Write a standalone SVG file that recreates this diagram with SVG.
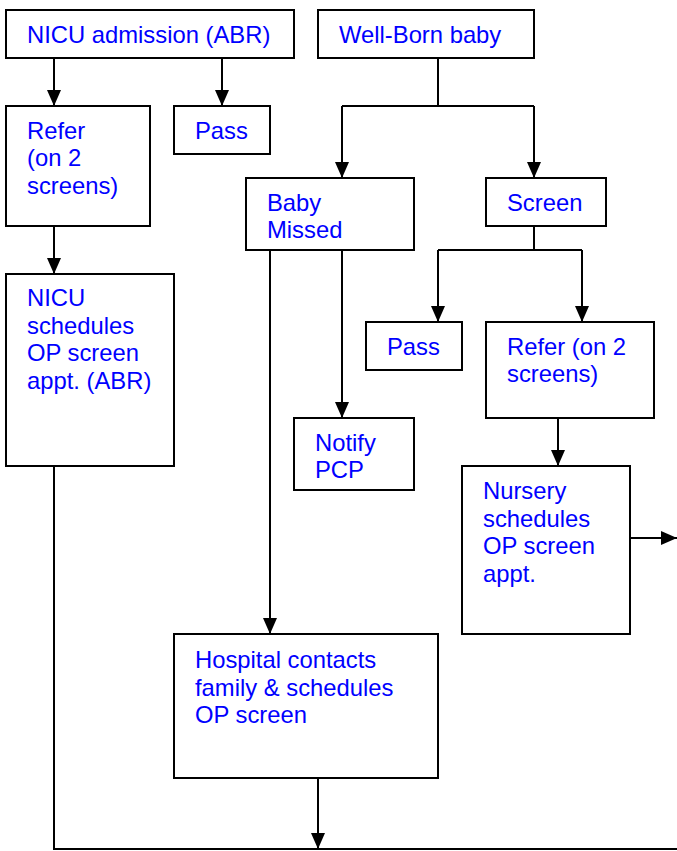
<svg xmlns="http://www.w3.org/2000/svg" width="677" height="851" viewBox="0 0 677 851">
<style>
.box{fill:#fff;stroke:#000;stroke-width:2}
.t{font-family:"Liberation Sans",Arial,sans-serif;font-size:23.8px;fill:#0000ff}
.c{fill:none;stroke:#000;stroke-width:2}
</style>
<defs>
<marker id="ah" markerUnits="userSpaceOnUse" markerWidth="16" markerHeight="14" refX="16" refY="7" orient="auto" viewBox="0 0 16 14">
<path d="M0,0 L16,7 L0,14 Z" fill="#000"/>
</marker>
</defs>
<rect width="677" height="851" fill="#fff"/>
<g id="connectors">
<line class="c" x1="54" y1="58" x2="54" y2="106" marker-end="url(#ah)"/>
<line class="c" x1="222" y1="58" x2="222" y2="106" marker-end="url(#ah)"/>
<polyline class="c" points="438,58 438,106"/>
<polyline class="c" points="342,106 534,106"/>
<line class="c" x1="342" y1="106" x2="342" y2="178" marker-end="url(#ah)"/>
<line class="c" x1="534" y1="106" x2="534" y2="178" marker-end="url(#ah)"/>
<polyline class="c" points="534,226 534,250"/>
<polyline class="c" points="438,250 582,250"/>
<line class="c" x1="438" y1="250" x2="438" y2="322" marker-end="url(#ah)"/>
<line class="c" x1="582" y1="250" x2="582" y2="322" marker-end="url(#ah)"/>
<line class="c" x1="54" y1="226" x2="54" y2="274" marker-end="url(#ah)"/>
<line class="c" x1="342" y1="250" x2="342" y2="418" marker-end="url(#ah)"/>
<line class="c" x1="270" y1="250" x2="270" y2="634" marker-end="url(#ah)"/>
<line class="c" x1="558" y1="418" x2="558" y2="466" marker-end="url(#ah)"/>
<line class="c" x1="630" y1="538" x2="677" y2="538" marker-end="url(#ah)"/>
<line class="c" x1="318" y1="778" x2="318" y2="849" marker-end="url(#ah)"/>
<polyline class="c" points="54,466 54,849 677,849"/>
</g>
<g id="nicu-admission">
<rect class="box" x="6" y="10" width="288" height="48"/>
<text class="t" x="27" y="43">NICU admission (ABR)</text>
</g>
<g id="well-born">
<rect class="box" x="318" y="10" width="216" height="48"/>
<text class="t" x="339" y="43">Well-Born baby</text>
</g>
<g id="refer-nicu">
<rect class="box" x="6" y="106" width="144" height="120"/>
<text class="t" x="27" y="138.5">Refer</text>
<text class="t" x="27" y="166">(on 2</text>
<text class="t" x="27" y="193.5">screens)</text>
</g>
<g id="pass-nicu">
<rect class="box" x="174" y="106" width="96" height="48"/>
<text class="t" x="195" y="138.5">Pass</text>
</g>
<g id="baby-missed">
<rect class="box" x="246" y="178" width="168" height="72"/>
<text class="t" x="267" y="211">Baby</text>
<text class="t" x="267" y="238">Missed</text>
</g>
<g id="screen">
<rect class="box" x="486" y="178" width="120" height="48"/>
<text class="t" x="507" y="211">Screen</text>
</g>
<g id="nicu-schedules">
<rect class="box" x="6" y="274" width="168" height="192"/>
<text class="t" x="27" y="306">NICU</text>
<text class="t" x="27" y="333.5">schedules</text>
<text class="t" x="27" y="361">OP screen</text>
<text class="t" x="27" y="388.5">appt. (ABR)</text>
</g>
<g id="pass-well">
<rect class="box" x="366" y="322" width="96" height="48"/>
<text class="t" x="387" y="354.5">Pass</text>
</g>
<g id="refer-well">
<rect class="box" x="486" y="322" width="168" height="96"/>
<text class="t" x="507" y="354.5">Refer (on 2</text>
<text class="t" x="507" y="382">screens)</text>
</g>
<g id="notify-pcp">
<rect class="box" x="294" y="418" width="120" height="72"/>
<text class="t" x="315" y="451">Notify</text>
<text class="t" x="315" y="478">PCP</text>
</g>
<g id="nursery-schedules">
<rect class="box" x="462" y="466" width="168" height="168"/>
<text class="t" x="483" y="499">Nursery</text>
<text class="t" x="483" y="526.5">schedules</text>
<text class="t" x="483" y="554">OP screen</text>
<text class="t" x="483" y="581.5">appt.</text>
</g>
<g id="hospital-contacts">
<rect class="box" x="174" y="634" width="264" height="144"/>
<text class="t" x="195" y="668">Hospital contacts</text>
<text class="t" x="195" y="695.5">family &amp; schedules</text>
<text class="t" x="195" y="723">OP screen</text>
</g>
</svg>
